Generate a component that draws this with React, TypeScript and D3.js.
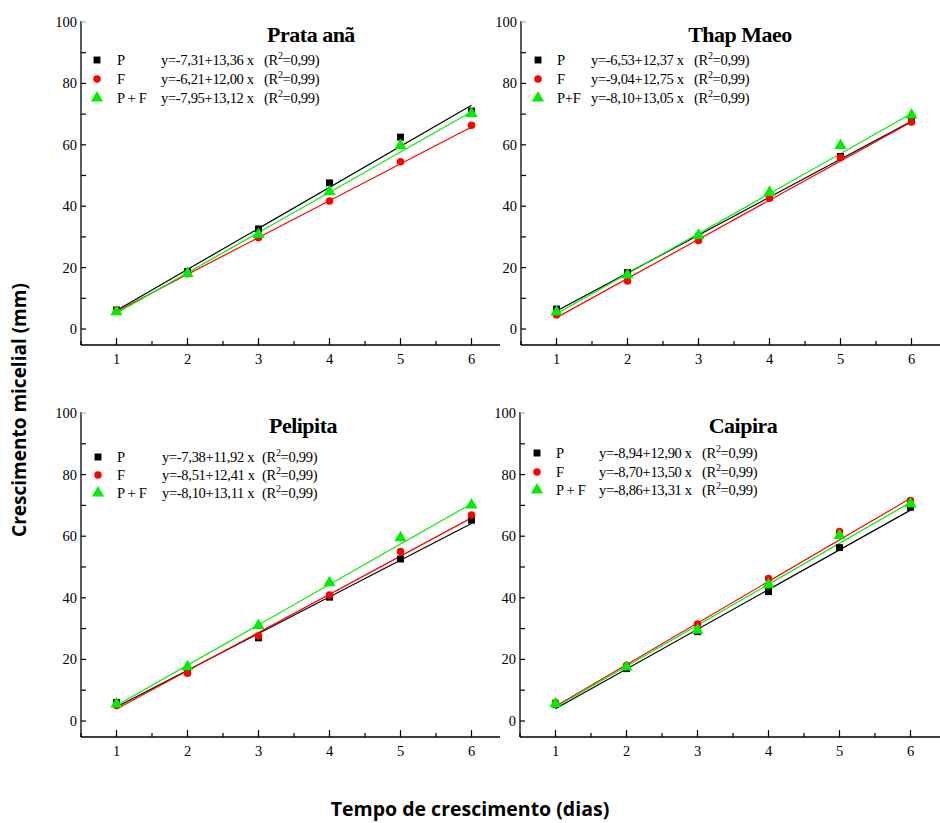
import React from 'react';
import * as d3 from 'd3';

// tempo (dias)
const days = [1, 2, 3, 4, 5, 6];
const xTickValues = [1, 2, 3, 4, 5, 6];
const yTickValues = [0, 20, 40, 60, 80, 100];
const treatments = ['P', 'F', 'P + F'];

// Prata anã
const prataP = [6.2, 18.7, 32.6, 47.6, 62.5, 71.0];
const prataF = [6.0, 18.0, 29.7, 41.7, 54.5, 66.4];
const prataPF = [5.6, 18.1, 30.8, 44.7, 59.8, 70.2];
const prataCoef = [[-7.31, 13.36], [-6.21, 12.00], [-7.95, 13.12]];

// Thap Maeo
const thapP = [6.5, 18.4, 30.0, 43.0, 56.2, 68.0];
const thapF = [4.6, 15.6, 28.8, 42.6, 55.9, 67.4];
const thapPF = [5.5, 17.6, 30.5, 44.5, 59.8, 69.7];
const thapCoef = [[-6.53, 12.37], [-9.04, 12.75], [-8.10, 13.05]];

// Pelipita
const peliP = [6.0, 16.0, 27.0, 40.2, 52.6, 65.2];
const peliF = [5.0, 15.5, 27.6, 40.9, 55.0, 66.9];
const peliPF = [5.5, 17.6, 31.0, 44.9, 59.5, 70.1];
const peliCoef = [[-7.38, 11.92], [-8.51, 12.41], [-8.10, 13.11]];

// Caipira
const caipP = [5.5, 17.0, 29.0, 42.0, 56.3, 69.4];
const caipF = [6.0, 18.0, 31.5, 46.3, 61.5, 71.6];
const caipPF = [5.6, 17.5, 29.5, 44.2, 60.2, 70.5];
const caipCoef = [[-8.94, 12.90], [-8.70, 13.50], [-8.86, 13.31]];

const colors = ['#000000', '#ff0000', '#00ee00'];
const symbols = [d3.symbolSquare, d3.symbolCircle, d3.symbolTriangle];
const symbolSizes = [48, 44, 64];

const panels = [
  {
    title: 'Prata anã', series: [prataP, prataF, prataPF], coef: prataCoef,
    ax: 81, xEnd: 500, top: 22, zero: 329, bottom: 345,
    titleX: 311, titleY: 42,
    leg: { m: 16, l: 36, e: 80, r: 183, rows: [60, 79, 98] }, labels: treatments,
  },
  {
    title: 'Thap Maeo', series: [thapP, thapF, thapPF], coef: thapCoef,
    ax: 521, xEnd: 940, top: 22, zero: 329, bottom: 345,
    titleX: 740, titleY: 42,
    leg: { m: 17, l: 36, e: 70, r: 173, rows: [60, 79, 98] }, labels: ['P', 'F', 'P+F'],
  },
  {
    title: 'Pelipita', series: [peliP, peliF, peliPF], coef: peliCoef,
    ax: 81, xEnd: 500, top: 413, zero: 721, bottom: 737,
    titleX: 303, titleY: 433,
    leg: { m: 17, l: 36, e: 81, r: 181, rows: [457, 475, 493] }, labels: treatments,
  },
  {
    title: 'Caipira', series: [caipP, caipF, caipPF], coef: caipCoef,
    ax: 520, xEnd: 940, top: 413, zero: 721, bottom: 737,
    titleX: 743, titleY: 433,
    leg: { m: 17, l: 36, e: 79, r: 182, rows: [453, 472, 490] }, labels: treatments,
  },
];

const fmt = (v: number) => Math.abs(v).toFixed(2).replace('.', ',');
const eqText = (c: number[]) => `y=${c[0] < 0 ? '-' : ''}${fmt(c[0])}+${fmt(c[1])} x`;

const serif = '"Liberation Serif", "Times New Roman", serif';

function Panel({ p }: { p: typeof panels[0] }) {
  const x = d3.scaleLinear().domain([0.5, 6.4]).range([p.ax, p.ax + 5.9 * 71]);
  const y = d3.scaleLinear().domain([0, 100]).range([p.zero, p.top]);

  const yMinor = d3.range(0, 101, 10);
  const xMinor = d3.range(0.5, 6.5, 0.5).filter(d => x(d) < p.xEnd);

  return (
    <g>
      {/* eixos */}
      <line x1={p.ax} x2={p.xEnd} y1={p.bottom} y2={p.bottom} stroke="#000" strokeWidth={1.3} />
      <line x1={p.ax} x2={p.ax} y1={y(100) - 1} y2={p.bottom} stroke="#000" strokeWidth={1.3} />
      {yMinor.map(d => (
        <line key={'yt' + d} x1={p.ax} x2={p.ax + 5} y1={y(d)} y2={y(d)}
              stroke={d === 100 ? '#aaa' : '#000'} strokeWidth={1.2} />
      ))}
      {yTickValues.map(d => (
        <text key={'yl' + d} x={p.ax - 4} y={y(d) + 5} textAnchor="end"
              fontFamily={serif} fontSize={14.5}>{d}</text>
      ))}
      {xMinor.map(d => {
        const major = Number.isInteger(d);
        return (
          <line key={'xt' + d} x1={x(d)} x2={x(d)} y1={p.bottom} y2={p.bottom - (major ? 7 : 4)}
                stroke="#000" strokeWidth={1.2} />
        );
      })}
      {xTickValues.map(d => (
        <text key={'xl' + d} x={x(d)} y={p.bottom + 19} textAnchor="middle"
              fontFamily={serif} fontSize={14.5}>{d}</text>
      ))}

      {/* retas ajustadas */}
      {p.coef.map((c, i) => {
        const path = d3.line<number>()
          .x(d => x(d))
          .y(d => y(c[0] + c[1] * d))([days[0], days[days.length - 1]]);
        return <path key={'ln' + i} d={path ?? ''} fill="none" stroke={colors[i]} strokeWidth={1.2} />;
      })}

      {/* pontos */}
      {p.series.map((s, i) => s.map((v, j) => (
        <path key={'pt' + i + '-' + j}
              d={d3.symbol().type(symbols[i]).size(symbolSizes[i])() ?? ''}
              transform={`translate(${x(days[j])},${y(v)})`} fill={colors[i]} />
      )))}

      {/* título */}
      <text x={p.titleX} y={p.titleY} textAnchor="middle" fontFamily={serif}
            fontWeight="bold" fontSize={22} letterSpacing={-0.5}>{p.title}</text>

      {/* legenda */}
      {p.labels.map((lab, i) => {
        const ry = p.leg.rows[i];
        return (
          <g key={'lg' + i} fontFamily={serif} fontSize={14.5} letterSpacing={-0.3}>
            <path d={d3.symbol().type(symbols[i]).size(symbolSizes[i])() ?? ''}
                  transform={`translate(${p.ax + p.leg.m},${ry})`} fill={colors[i]} />
            <text x={p.ax + p.leg.l} y={ry + 5}>{lab}</text>
            <text x={p.ax + p.leg.e} y={ry + 5}>{eqText(p.coef[i])}</text>
            <text x={p.ax + p.leg.r} y={ry + 5}>
              (R<tspan fontSize={10} dy={-6}>2</tspan><tspan dy={6}>=0,99)</tspan>
            </text>
          </g>
        );
      })}
    </g>
  );
}

export default function App() {
  const width = 940;
  const height = 823;
  return (
    <svg width={width} height={height} style={{ position: 'absolute', left: 0, top: 0, background: '#fff' }}>
      <rect width={width} height={height} fill="#fff" />
      {panels.map(p => <Panel key={p.title} p={p} />)}
      <text transform="translate(26,410) rotate(-90)" textAnchor="middle"
            fontFamily='"Open Sans", sans-serif' fontWeight="bold" fontSize={19}>
        Crescimento micelial (mm)
      </text>
      <text x={470} y={816} textAnchor="middle"
            fontFamily='"Open Sans", sans-serif' fontWeight="bold" fontSize={19.5}>
        Tempo de crescimento (dias)
      </text>
    </svg>
  );
}
